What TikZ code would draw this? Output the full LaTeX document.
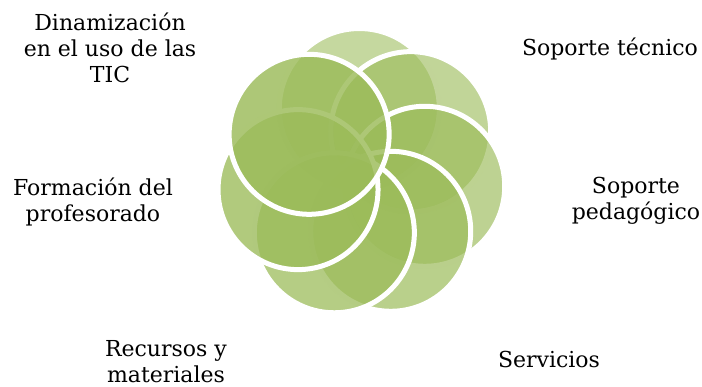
\documentclass[tikz,border=0pt]{standalone}
\usepackage{fontspec}
\setmainfont{DejaVu Serif}
\definecolor{petalgreen}{RGB}{155,187,89}
\begin{document}
\begin{tikzpicture}[x=1pt,y=-1pt,
  petal/.style={circle,draw=white,line width=5pt,minimum size=160pt,inner sep=0pt,outer sep=0pt,fill=petalgreen},
  lbl/.style={align=center,font=\fontsize{22}{26}\selectfont,inner sep=0pt,text=black}]
\useasboundingbox (0,0) rectangle (702,387);
\foreach \j/\nm in {0/ptop,1/prone,2/prtwo,3/prthree,4/pbot,5/pleft,6/pdina} {
  \pgfmathsetmacro\ang{91.5-\j*51.4286}
  \pgfmathsetmacro\op{0.58+\j*0.04}
  \node[petal,fill opacity=\op] (\nm) at ({361+65*cos(\ang)},{173.5-65*sin(\ang)}) {};
}
\node[lbl] (dina) at (110,48) {Dinamización\\en el uso de las\\TIC};
\node[lbl] (stec) at (610,49) {Soporte técnico};
\node[lbl] (sped) at (636,201) {Soporte\\pedagógico};
\node[lbl] (serv) at (549,359) {Servicios};
\node[lbl] (recu) at (166,362) {Recursos y\\materiales};
\node[lbl] (form) at (93,202) {Formación del\\profesorado};
\end{tikzpicture}
\end{document}
